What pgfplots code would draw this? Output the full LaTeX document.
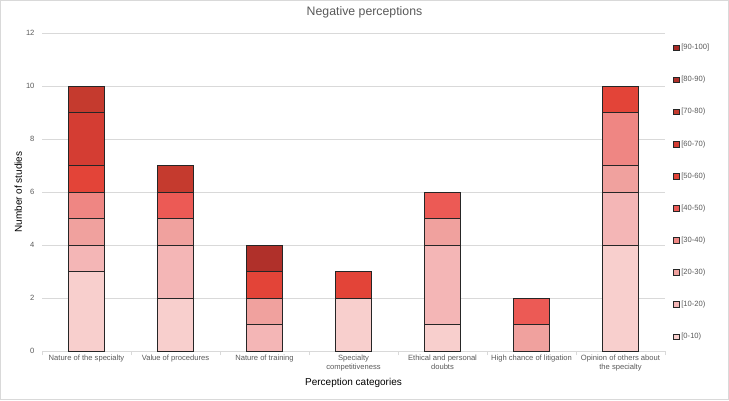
\documentclass[border=0pt]{standalone}
\usepackage{pgfplots}
\pgfplotsset{compat=1.18}
\usepackage{fontspec}
\setmainfont{Liberation Sans}
\definecolor{c0}{HTML}{F8CFCD}
\definecolor{c1}{HTML}{F4B6B6}
\definecolor{c2}{HTML}{F0A19E}
\definecolor{c3}{HTML}{EF8683}
\definecolor{c4}{HTML}{EC5A55}
\definecolor{c5}{HTML}{E34438}
\definecolor{c6}{HTML}{D43D33}
\definecolor{c7}{HTML}{C53A2E}
\definecolor{c8}{HTML}{B0302A}
\definecolor{c9}{HTML}{A82A25}
\definecolor{txt}{HTML}{595959}
\definecolor{gridc}{HTML}{D9D9D9}
\begin{document}
\begin{tikzpicture}[x=1pt,y=1pt]
\path[use as bounding box] (0,0) rectangle (729,400);
\draw[gridc, line width=0.8pt] (0.5,0.5) rectangle (728.5,399.5);
\node[txt, font=\fontsize{12.3}{15}\selectfont] at (364.5,388) {Negative perceptions};
\begin{axis}[
  at={(42pt,49pt)}, anchor=south west, scale only axis,
  width=623pt, height=318pt,
  /pgf/number format/assume math mode=true,
  ybar stacked, bar width=36pt,
  xmin=-0.5, xmax=6.5, ymin=0, ymax=12,
  ytick={0,2,...,12},
  xtick={0,...,6},
  xticklabels={Nature of the specialty, Value of procedures, Nature of training, Specialty\\competitiveness, Ethical and personal\\doubts, High chance of litigation, Opinion of others about\\the specialty},
  minor xtick={-0.5,0.5,...,6.5},
  major tick length=0pt, minor tick length=4pt, tick align=outside,
  axis x line*=bottom, axis y line*=left,
  x axis line style={gridc, line width=0.8pt},
  y axis line style={draw=none},
  minor tick style={gridc, line width=0.8pt},
  ytick style={draw=none},
  ymajorgrids, grid style={gridc, line width=0.7pt},
  tick label style={txt, font=\fontsize{7.6}{9.4}\selectfont},
  yticklabel style={xshift=-4pt},
  xticklabel style={align=center},
  xlabel={Perception categories}, ylabel={Number of studies},
  label style={txt, font=\fontsize{8.4}{10}\selectfont},
  every axis x label/.style={at={(axis description cs:0.5,-0.10)}, anchor=center},
  every axis y label/.style={at={(axis description cs:-0.038,0.5)}, rotate=90, anchor=center},
  reverse legend,
  legend style={at={(1.008,0.978)}, anchor=north west, draw=none, fill=none,
    font=\fontsize{7.6}{9.4}\selectfont, text=txt, row sep=21.1pt, cells={anchor=west}},
  legend image code/.code={\draw[#1, line width=0.6pt] (0pt,-2.8pt) rectangle (5.6pt,2.8pt);},
  every axis plot/.append style={draw=black!85, line width=0.7pt},
]
\addplot[fill=c0] coordinates {(0,3) (1,2) (2,0) (3,2) (4,1) (5,0) (6,4)};
\addlegendentry{{}[0-10)}
\addplot[fill=c1] coordinates {(0,1) (1,2) (2,1) (3,0) (4,3) (5,0) (6,2)};
\addlegendentry{{}[10-20)}
\addplot[fill=c2] coordinates {(0,1) (1,1) (2,1) (3,0) (4,1) (5,1) (6,1)};
\addlegendentry{{}[20-30)}
\addplot[fill=c3] coordinates {(0,1) (1,0) (2,0) (3,0) (4,0) (5,0) (6,2)};
\addlegendentry{{}[30-40)}
\addplot[fill=c4] coordinates {(0,0) (1,1) (2,0) (3,0) (4,1) (5,1) (6,0)};
\addlegendentry{{}[40-50)}
\addplot[fill=c5] coordinates {(0,1) (1,0) (2,1) (3,1) (4,0) (5,0) (6,1)};
\addlegendentry{{}[50-60)}
\addplot[fill=c6] coordinates {(0,2) (1,0) (2,0) (3,0) (4,0) (5,0) (6,0)};
\addlegendentry{{}[60-70)}
\addplot[fill=c7] coordinates {(0,1) (1,1) (2,0) (3,0) (4,0) (5,0) (6,0)};
\addlegendentry{{}[70-80)}
\addplot[fill=c8] coordinates {(0,0) (1,0) (2,1) (3,0) (4,0) (5,0) (6,0)};
\addlegendentry{{}[80-90)}
\addplot[fill=c9] coordinates {(0,0) (1,0) (2,0) (3,0) (4,0) (5,0) (6,0)};
\addlegendentry{{}[90-100]}
\end{axis}
\end{tikzpicture}
\end{document}
